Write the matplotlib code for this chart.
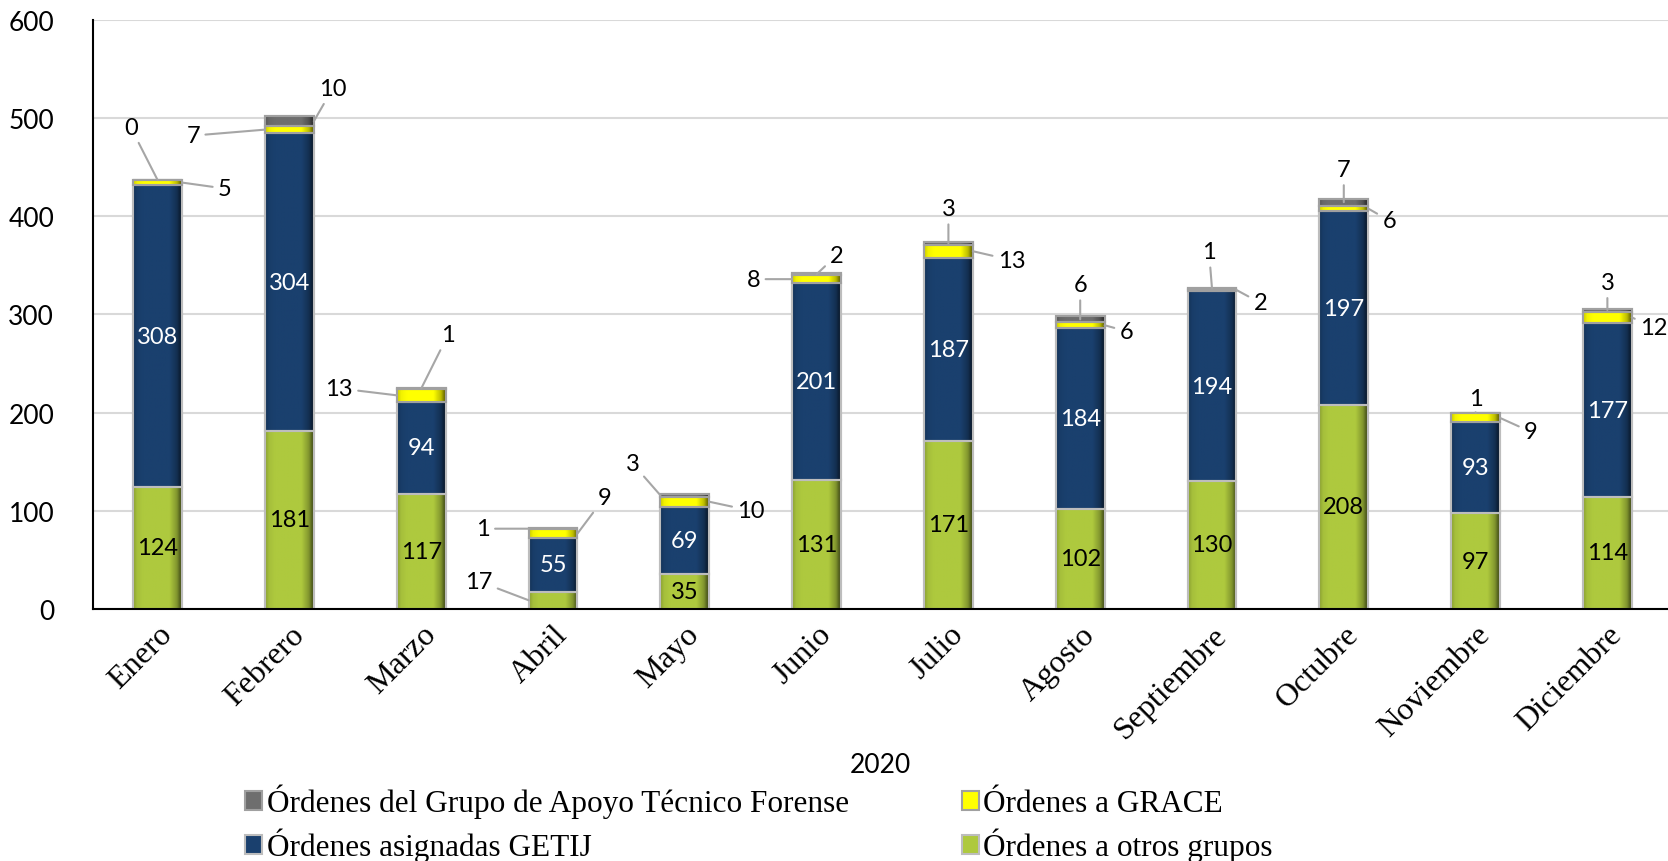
import matplotlib
matplotlib.use("Agg")
import matplotlib.pyplot as plt
import matplotlib.colors as mcolors
import numpy as np

meses = ["Enero", "Febrero", "Marzo", "Abril", "Mayo", "Junio", "Julio",
         "Agosto", "Septiembre", "Octubre", "Noviembre", "Diciembre"]
otros = [124, 181, 117, 17, 35, 131, 171, 102, 130, 208, 97, 114]
getij = [308, 304, 94, 55, 69, 201, 187, 184, 194, 197, 93, 177]
grace = [5, 7, 13, 9, 10, 8, 13, 6, 2, 6, 9, 12]
forense = [0, 10, 1, 1, 3, 2, 3, 6, 1, 7, 1, 3]

# label offsets (pixels, from segment centre) for the thin segments
grace_off = [(67, -6), (-96, -6), (-82, 7), (51, 36), (66, -9), (-63, 0),
             (63, -9), (46, -6), (48, -13), (45, -12), (55, -14), (46, -10)]
forense_off = [(-27, 53), (43, 33), (27, 54), (-70, 0), (-52, 32), (20, 19),
               (0, 35), (0, 35), (-3, 37), (0, 33), (0, 14), (0, 28)]

c_otros = "#AEC93E"
c_getij = "#1A406E"
c_grace = "#FFFF00"
c_for = "#6E6E6E"
edge = "#BDBDBD"

sans = ["Lato", "DejaVu Sans"]
serif = ["Liberation Serif", "DejaVu Serif"]

fig = plt.figure(figsize=(16.68, 8.62), dpi=100)
ax = fig.add_axes([0.0558, 0.2928, 0.9442, 0.6825])

x = np.arange(len(meses))
w = 0.37
b1 = np.array(otros)
b2 = b1 + np.array(getij)
b3 = b2 + np.array(grace)

# horizontal shading to mimic the bevelled bars
shade = np.interp(np.linspace(0, 1, 64), [0, 0.08, 0.2, 0.75, 0.9, 1.0],
                  [0.8, 0.95, 1.0, 1.0, 0.75, 0.35])


def shaded(bars, color):
    rgb = np.array(mcolors.to_rgb(color))
    img = np.clip(shade[None, :, None] * rgb[None, None, :], 0, 1)
    for p in bars.patches:
        x0, y0 = p.get_x(), p.get_y()
        if p.get_height() <= 0:
            continue
        im = ax.imshow(img, extent=(x0, x0 + p.get_width(), y0, y0 + p.get_height()),
                       aspect="auto", zorder=3.5, interpolation="bilinear")
        im.set_clip_path(p)


bars1 = ax.bar(x, otros, w, color=c_otros, edgecolor=edge, linewidth=1.5,
               label="Órdenes a otros grupos", zorder=3)
bars2 = ax.bar(x, getij, w, bottom=b1, color=c_getij, edgecolor=edge, linewidth=1.5,
               label="Órdenes asignadas GETIJ", zorder=3)
bars3 = ax.bar(x, grace, w, bottom=b2, color=c_grace, edgecolor="#A0A0A0", linewidth=1.5,
               label="Órdenes a GRACE", zorder=3)
bars4 = ax.bar(x, forense, w, bottom=b3, color=c_for, edgecolor="#A0A0A0", linewidth=1.5,
               label="Órdenes del Grupo de Apoyo Técnico Forense", zorder=3)
for bb, cc in [(bars1, c_otros), (bars2, c_getij), (bars3, c_grace), (bars4, c_for)]:
    shaded(bb, cc)
    for p in bb.patches:
        ax.add_patch(plt.Rectangle((p.get_x(), p.get_y()), p.get_width(), p.get_height(),
                                   fill=False, edgecolor=p.get_edgecolor(), lw=1.5, zorder=3.8))

lbl = dict(fontsize=17, family=sans, ha="center", va="center", zorder=5)
arrow = dict(arrowstyle="-", color="#A6A6A6", lw=1.5, shrinkA=2, shrinkB=0)
for i in range(len(meses)):
    if i == 3:
        ax.annotate(str(otros[i]), xy=(i - w / 2, otros[i] / 2), xytext=(-50, 19),
                    textcoords="offset pixels", color="black", arrowprops=arrow, **lbl)
    else:
        ax.text(i, otros[i] / 2, str(otros[i]), color="black", **lbl)
    ax.text(i, b1[i] + getij[i] / 2, str(getij[i]), color="white", **lbl)
    for val, base, off in [(grace[i], b2[i], grace_off[i]),
                           (forense[i], b3[i], forense_off[i])]:
        dx, dy = off
        if abs(dx) > 30:
            sx = np.sign(dx)
            ax_x = i + sx * w / 2
            dx = dx - sx * 24
        else:
            ax_x = i
        ax.annotate(str(val), xy=(ax_x, base + val / 2), xytext=(dx, dy),
                    textcoords="offset pixels", color="black", annotation_clip=False,
                    arrowprops=arrow, **lbl)

ax.set_ylim(0, 600)
ax.set_xlim(-0.49, 11.46)
ax.set_yticks(range(0, 601, 100))
ax.yaxis.grid(True, color="#D9D9D9", linewidth=1.5, zorder=0)
ax.set_axisbelow(True)
for s in ["top", "right"]:
    ax.spines[s].set_visible(False)
ax.spines["left"].set_linewidth(1.5)
ax.spines["bottom"].set_linewidth(1.5)
ax.spines["bottom"].set_zorder(4)
ax.tick_params(axis="both", length=0)
ax.tick_params(axis="y", pad=28)
for t in ax.get_yticklabels():
    t.set_fontsize(19)
    t.set_family(sans)

ax.set_xticks(x)
ax.set_xticklabels(meses, rotation=45, ha="right", rotation_mode="anchor",
                   fontsize=23, family=serif)
ax.tick_params(axis="x", pad=8)
ax.set_xlabel("2020", fontsize=19, family=sans, labelpad=6)

h, l = ax.get_legend_handles_labels()
order = [3, 1, 2, 0]
fig.legend([h[k] for k in order], [l[k] for k in order], ncol=2,
           loc="center", bbox_to_anchor=(0.455, 0.044), frameon=False,
           prop={"family": serif, "size": 22.5}, handlelength=0.55, handleheight=0.55,
           handletextpad=0.15, columnspacing=3.6, labelspacing=0.3)

fig.savefig("out.png", dpi=100)
